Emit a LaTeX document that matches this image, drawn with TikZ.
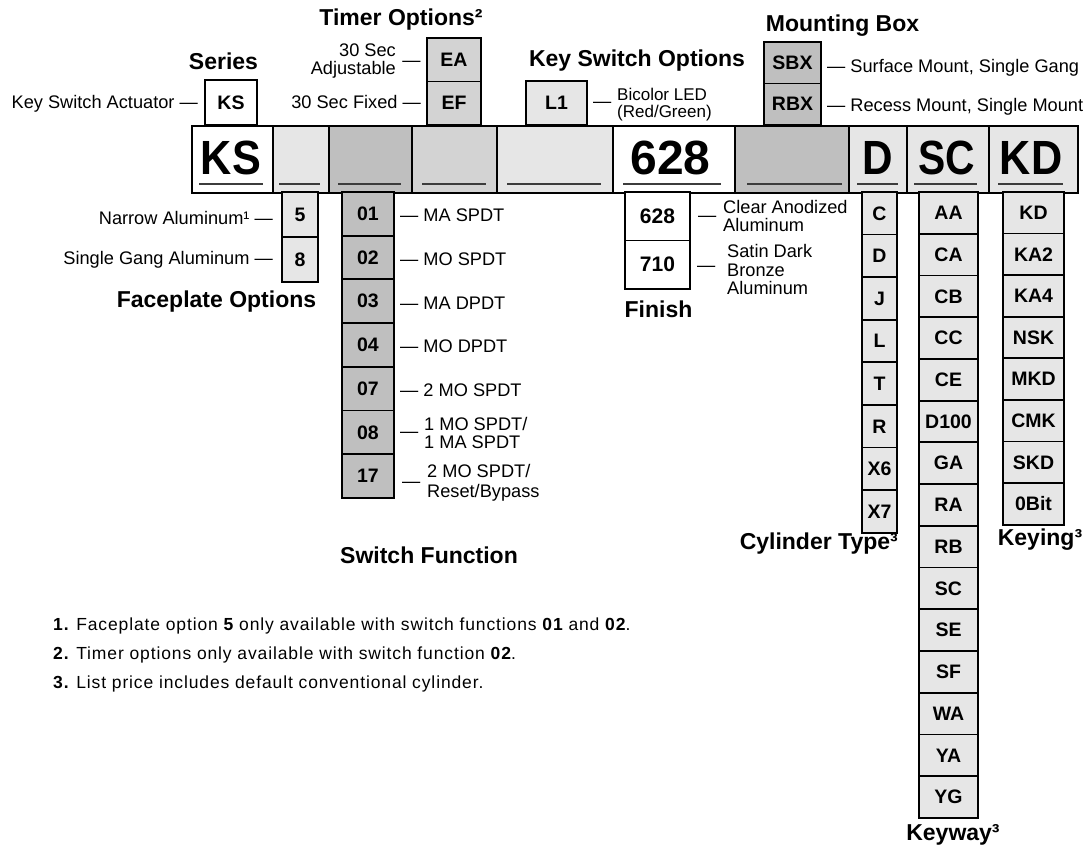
\documentclass[tikz,border=0pt]{standalone}
\usepackage{fontspec}
\setmainfont{Liberation Sans}
\newfontfamily\fnfont[LetterSpace=5]{Liberation Sans}
\usepackage{graphicx}
\definecolor{lg}{RGB}{230,230,230}
\definecolor{mg}{RGB}{211,211,211}
\definecolor{dg}{RGB}{191,191,191}
\definecolor{ul}{RGB}{60,60,60}
\begin{document}
\begin{tikzpicture}[x=1pt,y=-1pt,
 cell/.style={draw=black, line width=1.8pt, rectangle, inner sep=0pt, anchor=north west},
 opt/.style={draw=black, line width=1.8pt, rectangle, inner sep=0pt, font=\fontsize{19.5}{19.5}\selectfont\bfseries},
 lab/.style={inner sep=0pt, font=\fontsize{18.2}{18}\selectfont},
 labs/.style={inner sep=0pt, font=\fontsize{17}{17}\selectfont},
 hdr/.style={inner sep=0pt, anchor=base, font=\fontsize{23}{24}\selectfont\bfseries},
 big/.style={inner sep=0pt, anchor=base, font=\fontsize{48}{48}\selectfont\bfseries},
 uline/.style={draw=ul, line width=1.6pt},
 fn/.style={inner sep=0pt, anchor=base west, font=\fontsize{17.5}{17.5}\fnfont}
]
\useasboundingbox[fill=white] (0,0) rectangle (1088,850);

% main row
\foreach \l/\r/\c/\n in {191/272/white/m1, 272/328/lg/m2, 328/411/dg/m3, 411/496/mg/m4, 496/612/lg/m5, 612/734/white/m6, 734/848/dg/m7, 848/906/lg/m8, 906/988/lg/m9, 988/1077/lg/m10}{
  \node[cell, fill=\c, minimum width={\r-\l}, minimum height=67] (\n) at (\l,125) {};
}
\foreach \a/\b in {199/263, 279/320, 338/401, 422/486, 507/601, 623/721, 747/842, 857/898, 914/977, 998/1063}{
  \draw[uline] (\a,184) -- (\b,184);
}
\node[big] (tks) at (231,175) {\scalebox{0.9}[1]{KS}};
\node[big] (t628) at (670.5,175) {\scalebox{1.0}[1]{628}};
\node[big] (td) at (878,175) {\scalebox{0.88}[1]{D}};
\node[big] (tsc) at (947,175) {\scalebox{0.85}[1]{SC}};
\node[big] (tkd) at (1031,175) {\scalebox{0.9}[1]{KD}};

% top option boxes
\node[opt, fill=white, minimum width=52, minimum height=45] (sks) at (231,102.5) {KS};
\node[opt, fill=mg, minimum width=54, minimum height=43.5] (ea) at (454,59.75) {EA};
\node[opt, fill=mg, minimum width=54, minimum height=43.5] (ef) at (454,103.25) {EF};
\node[opt, fill=lg, minimum width=61, minimum height=44] (l1) at (556.5,103) {L1};
\node[opt, fill=dg, minimum width=57, minimum height=41.5] (sbx) at (792.5,62.75) {SBX};
\node[opt, fill=dg, minimum width=57, minimum height=41.5] (rbx) at (792.5,104.25) {RBX};

% lower option columns
\node[opt, fill=lg, minimum width=36, minimum height=45] (f5) at (300,214.5) {5};
\node[opt, fill=lg, minimum width=36, minimum height=45] (f8) at (300,259.5) {8};
\foreach \t [count=\i] in {01,02,03,04,07,08,17}{
  \node[opt, fill=dg, minimum width=52, minimum height=43.7] (sw\i) at (368,{192+43.7*(\i-0.5)}) {\t};
}
\node[opt, fill=white, minimum width=65, minimum height=48.5, font=\fontsize{21}{21}\selectfont\bfseries] (fi1) at (657.5,216.25) {628};
\node[opt, fill=white, minimum width=65, minimum height=48.5, font=\fontsize{21}{21}\selectfont\bfseries] (fi2) at (657.5,264.75) {710};
\foreach \t [count=\i] in {C,D,J,L,T,R,X6,X7}{
  \node[opt, fill=lg, minimum width=35, minimum height=42.6] (cy\i) at (879.5,{192+42.6*(\i-0.5)}) {\t};
}
\foreach \t [count=\i] in {AA,CA,CB,CC,CE,D100,GA,RA,RB,SC,SE,SF,WA,YA,YG}{
  \node[opt, fill=lg, minimum width=59, minimum height=41.73] (kw\i) at (948.5,{192+41.73*(\i-0.5)}) {\t};
}
\foreach \t [count=\i] in {KD,KA2,KA4,NSK,MKD,CMK,SKD,0Bit}{
  \node[opt, fill=lg, minimum width=61, minimum height=41.6] (kg\i) at (1033.5,{192+41.6*(\i-0.5)}) {\t};
}

% headers
\node[hdr] (hser) at (223.5,70) {Series};
\node[hdr] (htim) at (401,26) {Timer Options²};
\node[hdr] (hkso) at (637,67) {Key Switch Options};
\node[hdr] (hmb) at (842.5,32) {Mounting Box};
\node[hdr] (hfp) at (216.5,308) {Faceplate Options};
\node[hdr] (hfin) at (658.5,318) {Finish};
\node[hdr] (hsf) at (429,563) {Switch Function};
\node[hdr, anchor=base east] (hcyl) at (898,549) {Cylinder Type³};
\node[hdr] (hkw) at (953,840) {Keyway³};
\node[hdr] (hkg) at (1040,545) {Keying³};

% labels
\node[lab, anchor=base east] (lks) at (198,109) {Key Switch Actuator —};
\node[lab, anchor=base east] (lea1) at (396,57) {30 Sec};
\node[lab, anchor=base east] (lea2) at (396,75) {Adjustable};
\node[lab, anchor=base] (lead) at (411.5,67) {—};
\node[lab, anchor=base east] (lef) at (421,109) {30 Sec Fixed —};
\node[lab, anchor=base west] (l1d) at (593,108) {—};
\node[labs, anchor=base west] (l1a) at (617,101) {Bicolor LED};
\node[labs, anchor=base west] (l1b) at (617,118) {(Red/Green)};
\node[lab, anchor=base west] (lsbx) at (827,73) {— Surface Mount, Single Gang};
\node[lab, anchor=base west] (lrbx) at (827,112) {— Recess Mount, Single Mount};
\node[lab, anchor=base east] (lf5) at (273,225) {Narrow Aluminum¹ —};
\node[lab, anchor=base east] (lf8) at (273,265) {Single Gang Aluminum —};
\foreach \t [count=\i] in {MA SPDT, MO SPDT, MA DPDT, MO DPDT, 2 MO SPDT}{
  \node[lab, anchor=base west] (lsw\i) at (400,{192+43.7*(\i-0.5)+8}) {— \t};
}
\node[lab, anchor=base west] (lsw6d) at (400,438) {—};
\node[lab, anchor=base west] (lsw6a) at (424,431) {1 MO SPDT/};
\node[lab, anchor=base west] (lsw6b) at (424,449) {1 MA SPDT};
\node[lab, anchor=base west] (lsw7d) at (402,487) {—};
\node[lab, anchor=base west] (lsw7a) at (427,478) {2 MO SPDT/};
\node[lab, anchor=base west] (lsw7b) at (427,497) {Reset/Bypass};
\node[lab, anchor=base west] (lfi1d) at (698,222) {—};
\node[lab, anchor=base west] (lfi1a) at (723,214) {Clear Anodized};
\node[lab, anchor=base west] (lfi1b) at (723,232) {Aluminum};
\node[lab, anchor=base west] (lfi2d) at (697,272) {—};
\node[lab, anchor=base west] (lfi2a) at (727,258) {Satin Dark};
\node[lab, anchor=base west] (lfi2b) at (727,277) {Bronze};
\node[lab, anchor=base west] (lfi2c) at (727,295) {Aluminum};

% footnotes
\node[fn] (fn1) at (53,630) {{\bfseries 1.} Faceplate option {\bfseries 5} only available with switch functions {\bfseries 01} and {\bfseries 02}.};
\node[fn] (fn2) at (53,659) {{\bfseries 2.} Timer options only available with switch function {\bfseries 02}.};
\node[fn] (fn3) at (53,688) {{\bfseries 3.} List price includes default conventional cylinder.};
\end{tikzpicture}
\end{document}
